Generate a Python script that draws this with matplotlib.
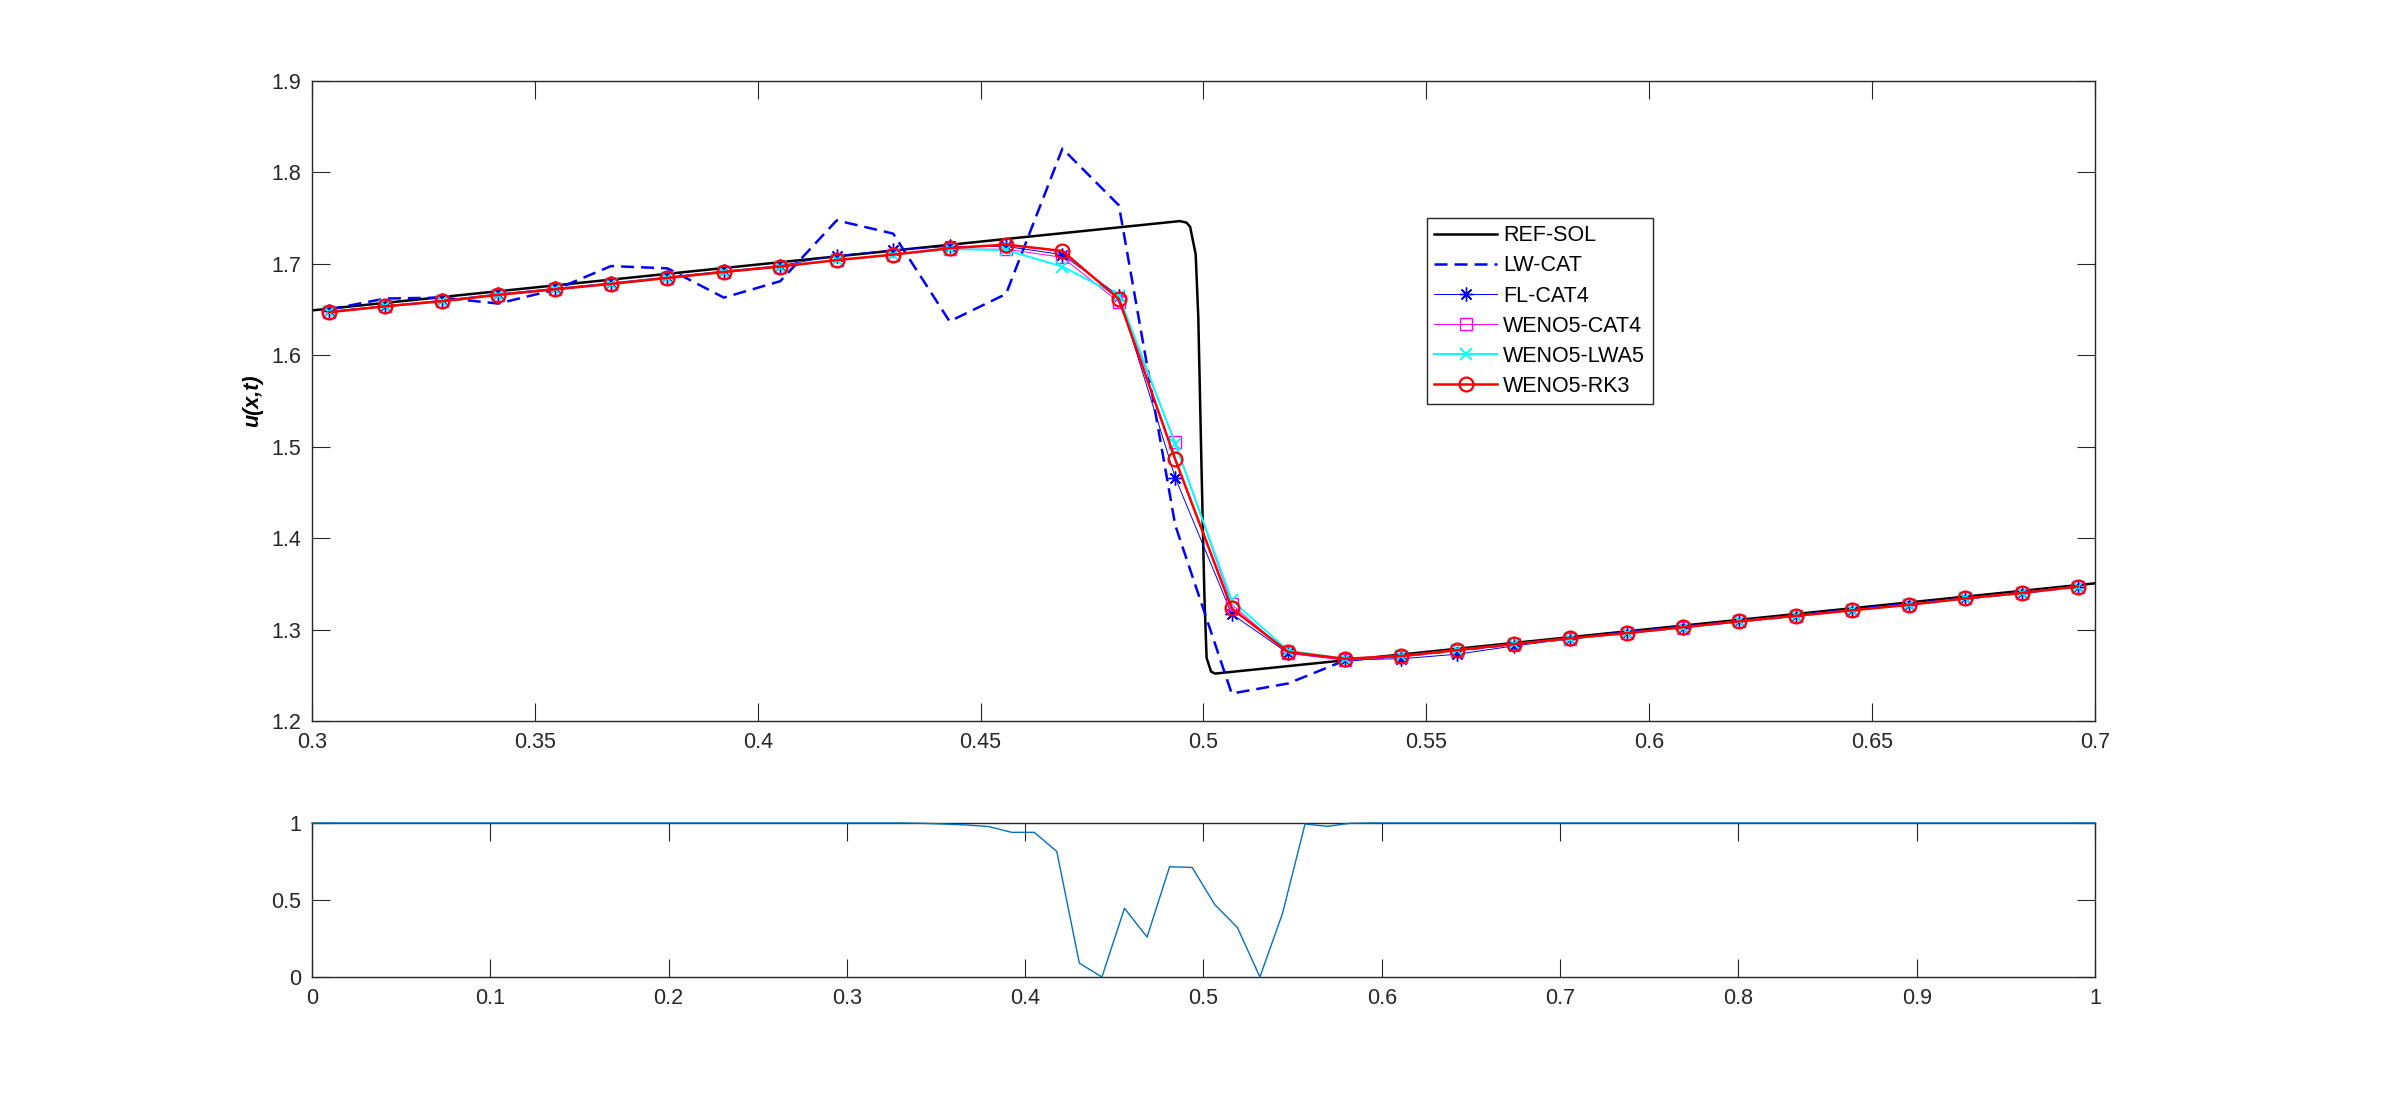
import numpy as np
import matplotlib
matplotlib.use("Agg")
import matplotlib.pyplot as plt

plt.rcParams["font.family"] = ["Liberation Sans", "DejaVu Sans"]

# --- grid: 80 nodes on [0, 1], top panel shows nodes 24..55 ---
x_nodes = np.linspace(0.0, 1.0, 80)
x_zoom = x_nodes[24:56]

# reference solution (fine grid), read as breakpoints
ref_x = [0.3, 0.4947, 0.4962, 0.4970, 0.49825, 0.49884, 0.4996, 0.5002,
         0.5007, 0.5017, 0.5026, 0.7]
ref_u = [1.649, 1.7467, 1.7450, 1.7405, 1.7103, 1.641, 1.468, 1.338,
         1.269, 1.254, 1.2518, 1.3505]

lw_cat = [1.650, 1.662, 1.663, 1.6565, 1.6715, 1.6975, 1.695, 1.663,
          1.681, 1.7475, 1.733, 1.637, 1.667, 1.826, 1.764, 1.414,
          1.230, 1.241, 1.266, 1.271, 1.277, 1.284, 1.290, 1.297,
          1.303, 1.309, 1.315, 1.322, 1.328, 1.334, 1.340, 1.347]

fl_cat4 = [1.648, 1.654, 1.660, 1.667, 1.673, 1.679, 1.6855, 1.692,
           1.698, 1.709, 1.715, 1.719, 1.719, 1.710, 1.665, 1.466,
           1.317, 1.274, 1.267, 1.268, 1.273, 1.282, 1.290, 1.296,
           1.302, 1.309, 1.315, 1.321, 1.327, 1.334, 1.340, 1.347]

weno5_cat4 = [1.647, 1.6535, 1.659, 1.666, 1.672, 1.678, 1.6845, 1.691,
              1.697, 1.704, 1.710, 1.716, 1.716, 1.707, 1.658, 1.505,
              1.3275, 1.274, 1.2665, 1.270, 1.277, 1.284, 1.290, 1.296,
              1.302, 1.309, 1.315, 1.321, 1.327, 1.334, 1.340, 1.347]

weno5_lwa5 = [1.647, 1.6535, 1.659, 1.666, 1.672, 1.678, 1.6845, 1.691,
              1.697, 1.704, 1.710, 1.716, 1.715, 1.697, 1.665, 1.503,
              1.332, 1.277, 1.268, 1.271, 1.2775, 1.284, 1.290, 1.296,
              1.302, 1.309, 1.315, 1.321, 1.327, 1.334, 1.340, 1.347]

weno5_rk3 = [1.647, 1.6535, 1.659, 1.666, 1.672, 1.678, 1.6845, 1.691,
             1.697, 1.704, 1.710, 1.717, 1.721, 1.714, 1.6615, 1.486,
             1.323, 1.2755, 1.268, 1.271, 1.2775, 1.284, 1.2905, 1.296,
             1.3025, 1.309, 1.315, 1.321, 1.327, 1.334, 1.340, 1.347]

# limiter / indicator on the full grid (bottom panel)
indicator = [1.0, 1.0, 1.0, 1.0, 1.0, 1.0, 1.0, 1.0, 1.0, 1.0,
             1.0, 1.0, 1.0, 1.0, 1.0, 1.0, 1.0, 1.0, 1.0, 1.0,
             1.0, 1.0, 1.0, 1.0, 1.0, 1.0, 1.0, 0.998, 0.993, 0.987,
             0.976, 0.939, 0.939, 0.815, 0.09, 0.0, 0.446, 0.259, 0.716, 0.711,
             0.47, 0.322, 0.0, 0.412, 0.993, 0.978, 0.998, 1.0, 1.0, 1.0,
             1.0, 1.0, 1.0, 1.0, 1.0, 1.0, 1.0, 1.0, 1.0, 1.0,
             1.0, 1.0, 1.0, 1.0, 1.0, 1.0, 1.0, 1.0, 1.0, 1.0,
             1.0, 1.0, 1.0, 1.0, 1.0, 1.0, 1.0, 1.0, 1.0, 1.0]

top_xticks = [0.3, 0.35, 0.4, 0.45, 0.5, 0.55, 0.6, 0.65, 0.7]
top_yticks = [1.2, 1.3, 1.4, 1.5, 1.6, 1.7, 1.8, 1.9]
bot_xticks = [0, 0.1, 0.2, 0.3, 0.4, 0.5, 0.6, 0.7, 0.8, 0.9, 1.0]
bot_yticks = [0, 0.5, 1]

axis_gray = (0.15, 0.15, 0.15)
fs = 15.5
asterisk = (8, 2, 0)   # matlab-style '*' (8 spokes)


def fmt(v):
    return f"{v:g}"


def style_axes(ax):
    for sp in ax.spines.values():
        sp.set_color(axis_gray)
        sp.set_linewidth(1.0)
    ax.tick_params(direction="in", length=13, width=0.8, colors=axis_gray,
                   labelsize=fs, top=True, right=True, pad=8)


fig = plt.figure(figsize=(24, 10.98), dpi=100)
ax1 = fig.add_axes([0.13, 0.3434, 0.7429, 0.5829])
ax2 = fig.add_axes([0.13, 0.1102, 0.7429, 0.1403])

ax1.plot(ref_x, ref_u, "-", color="k", lw=1.8, label="REF-SOL")
ax1.plot(x_zoom, lw_cat, "--", color="#0000FF", lw=1.8, dashes=(5.2, 2.8), label="LW-CAT")
ax1.plot(x_zoom, fl_cat4, "-", marker=asterisk, color="#0000FF", lw=0.7, ms=10, mew=1.0,
         label="FL-CAT4")
ax1.plot(x_zoom, weno5_cat4, "-s", color="#FF00FF", lw=0.7, ms=8, mew=1.0,
         mfc="none", label="WENO5-CAT4")
ax1.plot(x_zoom, weno5_lwa5, "-x", color="#00FFFF", lw=1.4, ms=8, mew=1.4, label="WENO5-LWA5")
ax1.plot(x_zoom, weno5_rk3, "-o", color="#FF0000", lw=1.8, ms=10, mew=1.6,
         mfc="none", label="WENO5-RK3")

ax1.set_xlim(0.3, 0.7)
ax1.set_ylim(1.2, 1.9)
ax1.set_xticks(top_xticks)
ax1.set_xticklabels([fmt(v) for v in top_xticks])
ax1.set_yticks(top_yticks)
ax1.set_yticklabels([fmt(v) for v in top_yticks])
style_axes(ax1)
ax1.set_ylabel("u(x,t)", fontsize=fs, fontweight="bold", fontstyle="italic",
               labelpad=6)

leg = ax1.legend(loc="upper left", bbox_to_anchor=(0.6253, 0.786), borderaxespad=0,
                 fontsize=fs, handlelength=2.9, handletextpad=0.3, labelspacing=0.42,
                 borderpad=0.35, fancybox=False, framealpha=1, numpoints=1)
leg.get_frame().set_edgecolor(axis_gray)
leg.get_frame().set_linewidth(1.0)

ax2.plot(x_nodes, indicator, "-", color="#0072BD", lw=1.0, clip_on=False, zorder=5)
ax2.set_xlim(0, 1)
ax2.set_ylim(0, 1)
ax2.set_xticks(bot_xticks)
ax2.set_xticklabels([fmt(v) for v in bot_xticks])
ax2.set_yticks(bot_yticks)
ax2.set_yticklabels([fmt(v) for v in bot_yticks])
style_axes(ax2)

fig.savefig("out.png", dpi=100)
